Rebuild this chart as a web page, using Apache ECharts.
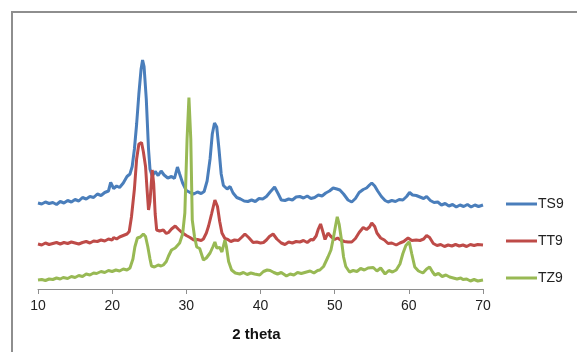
<!DOCTYPE html>
<html>
<head>
<meta charset="utf-8">
<title>XRD</title>
<script src="https://cdn.jsdelivr.net/npm/echarts@6/dist/echarts.min.js"></script>
<style>
  html, body { margin: 0; padding: 0; background: #fff; }
  #myChart { width: 577px; height: 352px; }
</style>
</head>
<body>
<div id="myChart"></div>
<script>
    // 2 theta 轴刻度
    var xTicks = [10, 20, 30, 40, 50, 60, 70];
    var seriesNames = ['TS9', 'TT9', 'TZ9'];

    // [2theta, intensity] (相对强度, 从图上读取)
    var dataTS9 = [
        [10, 34.4], [10.5, 34.0], [11, 34.8], [11.5, 34.2], [12, 34.6], [12.5, 33.8], [13, 35.0], [13.5, 34.4],
        [14, 35.4], [14.5, 34.8], [15, 35.8], [15.5, 35.2], [16, 36.6], [16.5, 36.0], [17, 37.0], [17.5, 36.6],
        [18, 38.0], [18.5, 37.4], [19, 38.6], [19.5, 39.2], [19.8, 42.6], [20.2, 40.2], [20.6, 41.2], [21, 40.6],
        [21.5, 42.4], [22, 45.0], [22.4, 46.0], [22.7, 49.0], [23, 56], [23.3, 66], [23.6, 78], [23.9, 88],
        [24.1, 91.6], [24.3, 89], [24.6, 76], [24.9, 56], [25.1, 48], [25.4, 45.2], [25.8, 47.0], [26.2, 45.4],
        [26.6, 47.2], [27, 45.6], [27.5, 44.4], [28, 45.0], [28.4, 44.2], [28.8, 48.8], [29.1, 46.0], [29.5, 42.4],
        [30, 39.4], [30.5, 38.6], [31, 38.0], [31.5, 38.8], [32, 38.2], [32.4, 39.0], [32.8, 43.2], [33.2, 52],
        [33.5, 62], [33.8, 66.4], [34.1, 64.8], [34.4, 56], [34.7, 46], [35, 41.4], [35.5, 40.0], [35.9, 41.0],
        [36.3, 38.4], [36.8, 36.6], [37.3, 36.0], [37.8, 35.2], [38.3, 35.0], [38.8, 35.6], [39.3, 35.0], [39.8, 36.2],
        [40.3, 36.0], [40.8, 37.0], [41.3, 38.8], [41.9, 40.8], [42.4, 38.0], [42.8, 35.6], [43.3, 35.4], [43.8, 36.0],
        [44.3, 35.6], [44.8, 36.8], [45.3, 37.0], [45.8, 36.4], [46.3, 37.2], [46.8, 36.2], [47.3, 36.6], [47.8, 37.6],
        [48.3, 37.2], [48.8, 38.4], [49.3, 39.2], [49.8, 40.4], [50.3, 40.0], [50.7, 39.6], [51.2, 38.0], [51.8, 35.6],
        [52.3, 34.8], [52.8, 36.2], [53.3, 38.6], [53.85, 39.8], [54.3, 40.4], [54.7, 41.6], [55, 42.4], [55.4, 41.2],
        [55.8, 39.2], [56.3, 37.0], [56.8, 35.4], [57.2, 34.8], [57.7, 35.4], [58.2, 35.0], [58.7, 35.8], [59.2, 35.6],
        [59.7, 37.0], [60.1, 38.6], [60.5, 37.6], [61, 37.4], [61.5, 36.8], [62, 36.2], [62.4, 37.0], [62.9, 35.4],
        [63.4, 34.6], [63.9, 34.8], [64.4, 33.6], [64.9, 34.2], [65.4, 33.2], [65.9, 33.8], [66.4, 32.8], [66.9, 33.6],
        [67.4, 33.0], [67.9, 33.8], [68.4, 32.8], [68.9, 33.6], [69.4, 33.0], [70, 33.6]
    ];
    var dataTT9 = [
        [10, 18.0], [10.5, 17.6], [11, 18.4], [11.5, 17.8], [12, 18.2], [12.5, 18.6], [13, 18.0], [13.5, 18.6],
        [14, 18.2], [14.5, 18.8], [15, 18.4], [15.5, 18.0], [16, 18.6], [16.5, 19.0], [17, 18.4], [17.5, 19.2],
        [18, 19.0], [18.5, 19.6], [19, 19.2], [19.5, 20.0], [20, 19.6], [20.2, 20.6], [20.6, 20.0], [21, 20.8],
        [21.5, 21.4], [22, 22.0], [22.3, 23.0], [22.6, 28.8], [23, 40], [23.3, 52], [23.6, 58], [23.96, 58.6],
        [24.2, 55], [24.5, 49.0], [24.7, 40], [24.9, 31.6], [25.1, 35], [25.4, 47.6], [25.6, 42], [25.8, 30],
        [26, 23.6], [26.4, 23.2], [26.9, 23.6], [27.3, 22.2], [27.6, 22.6], [28, 24.0], [28.5, 25.2], [28.9, 24.0],
        [29.4, 22.6], [30, 21.4], [30.5, 20.6], [31, 19.6], [31.5, 19.8], [32, 19.4], [32.3, 20.0], [32.7, 22.4],
        [33, 25.2], [33.4, 30], [33.85, 35.6], [34.2, 33], [34.5, 27], [34.8, 22.4], [35.2, 20.2], [35.6, 19.8],
        [36, 19.0], [36.5, 19.6], [37, 19.4], [37.5, 20.8], [37.9, 22.0], [38.4, 20.6], [39, 18.6], [39.5, 18.8],
        [40, 18.4], [40.4, 18.6], [40.8, 19.6], [41.2, 21.0], [41.7, 22.0], [42.2, 20.0], [42.8, 18.4], [43.3, 17.8],
        [43.8, 18.8], [44.3, 18.4], [44.8, 19.0], [45.3, 18.8], [45.8, 19.4], [46.3, 18.6], [46.8, 19.8], [47.1, 19.6],
        [47.5, 21.2], [47.8, 24.0], [48.1, 26.0], [48.4, 23.0], [48.7, 19.8], [49.1, 22.4], [49.5, 21.0], [50, 19.8],
        [50.4, 20.4], [50.8, 19.6], [51.3, 19.0], [51.8, 18.8], [52.3, 18.8], [52.8, 20.2], [53.3, 22.6], [53.85, 24.6],
        [54.3, 23.8], [54.7, 24.8], [55, 26.4], [55.4, 25.0], [55.7, 22.4], [56.2, 20.4], [56.7, 19.6], [57.2, 18.2],
        [57.7, 18.4], [58.3, 17.6], [58.8, 18.4], [59.3, 19.0], [59.9, 20.4], [60.4, 19.4], [61, 19.6], [61.5, 19.4],
        [62, 20.0], [62.4, 21.4], [62.8, 20.6], [63.3, 18.2], [63.8, 17.4], [64.3, 17.8], [64.8, 17.0], [65.3, 17.6],
        [65.8, 17.2], [66.3, 17.8], [66.8, 17.2], [67.3, 17.6], [67.8, 17.0], [68.3, 17.8], [68.8, 17.4], [69.3, 17.8],
        [70, 17.6]
    ];
    var dataTZ9 = [
        [10, 3.6], [10.5, 3.8], [11, 3.4], [11.5, 4.0], [12, 3.8], [12.5, 4.4], [13, 4.0], [13.4, 4.6],
        [14, 4.2], [14.5, 5.0], [15, 4.6], [15.5, 5.4], [16, 5.0], [16.5, 6.0], [17, 5.6], [17.5, 6.4],
        [17.9, 6.2], [18.5, 7.0], [19, 6.6], [19.5, 7.4], [20, 7.0], [20.5, 7.6], [21, 7.2], [21.5, 8.0],
        [22, 7.6], [22.4, 8.4], [22.8, 12], [23.06, 16.8], [23.4, 20.4], [23.8, 20.8], [24.2, 22.0], [24.5, 21.0],
        [24.8, 17], [25.1, 12.0], [25.3, 9.2], [25.7, 8.8], [26.2, 9.6], [26.6, 9.2], [26.9, 9.6], [27.3, 11.0],
        [27.6, 13.2], [28, 15.6], [28.5, 16.4], [29.1, 18.4], [29.5, 22], [29.8, 30.4], [30.1, 60], [30.35, 76.6],
        [30.6, 60], [30.8, 27.6], [31.1, 21], [31.4, 16.8], [31.8, 16.2], [32.3, 11.6], [32.7, 12.4], [33.2, 14.4],
        [33.6, 17.0], [33.85, 18.8], [34.1, 16.4], [34.5, 16.6], [34.8, 14.8], [35.2, 19.6], [35.4, 17.0], [35.7, 11.0],
        [36.1, 7.6], [36.6, 6.4], [37.2, 6.0], [37.7, 6.6], [38.2, 5.8], [38.7, 6.4], [39.2, 6.0], [39.9, 5.6],
        [40.4, 7.0], [40.9, 7.6], [41.3, 7.4], [41.8, 6.6], [42.3, 6.0], [42.8, 6.6], [43.5, 5.2], [44, 6.0],
        [44.5, 5.6], [45, 6.6], [45.5, 6.2], [46.2, 6.8], [46.7, 7.2], [47.2, 6.4], [47.7, 7.4], [48, 7.6],
        [48.5, 9.0], [49.1, 12.8], [49.5, 15.6], [49.8, 20.0], [50.1, 25.0], [50.35, 28.9], [50.6, 26.0], [50.9, 20],
        [51.2, 12.8], [51.5, 9.0], [52, 6.8], [52.5, 7.4], [53, 7.0], [53.5, 8.2], [54, 7.6], [54.5, 8.4],
        [55.2, 8.6], [55.7, 7.2], [56.2, 8.4], [56.8, 6.0], [57.3, 7.4], [57.8, 6.8], [58.3, 7.6], [58.8, 10.0],
        [59.2, 14.2], [59.6, 17.4], [60.05, 18.9], [60.4, 14], [60.8, 8.8], [61.3, 7.2], [61.9, 6.4], [62.4, 8.0],
        [62.8, 8.8], [63.2, 6.8], [63.5, 5.6], [64, 6.2], [64.5, 5.0], [65, 5.6], [65.5, 4.8], [66, 4.4],
        [66.5, 4.0], [67, 4.4], [67.3, 3.8], [67.8, 4.0], [68.3, 3.2], [68.8, 3.8], [69.3, 3.2], [70, 3.6]
    ];

    var colors = ['#4a7ebb', '#be4b48', '#98b954'];
    var seriesData = [dataTS9, dataTT9, dataTZ9];

    var myChart = echarts.init(document.getElementById('myChart'));
    myChart.setOption({
        animation: false,
        color: colors,
        textStyle: { fontFamily: 'Liberation Sans, Arial, sans-serif' },
        // 外框
        graphic: [{
            type: 'rect',
            silent: true,
            shape: { x: 12, y: 12, width: 700, height: 500 },
            style: { fill: 'none', stroke: '#8e8e8e', lineWidth: 2 }
        }],
        grid: { left: 38, right: 94, top: 39, bottom: 63 },
        legend: {
            orient: 'vertical',
            left: 501,
            top: 192,
            itemGap: 23,
            itemWidth: 31,
            itemHeight: 3,
            icon: 'rect',
            textStyle: { color: '#222', fontSize: 14, padding: [0, 0, 0, -4] },
            data: seriesNames
        },
        xAxis: {
            type: 'value',
            min: xTicks[0],
            max: xTicks[xTicks.length - 1],
            interval: 10,
            name: '2 theta',
            nameLocation: 'middle',
            nameGap: 38,
            nameTextStyle: { color: '#111', fontSize: 15, fontWeight: 'bold', padding: [0, 8, 0, 0] },
            axisLine: { lineStyle: { color: '#8e8e8e', width: 1 } },
            axisTick: { show: true, inside: false, length: 5, lineStyle: { color: '#8e8e8e' } },
            axisLabel: { color: '#222', fontSize: 14, margin: 10 },
            splitLine: { show: false }
        },
        yAxis: {
            type: 'value',
            min: 0,
            max: 100,
            show: false,
            splitLine: { show: false }
        },
        series: seriesNames.map(function (name, i) {
            return {
                name: name,
                type: 'line',
                showSymbol: false,
                symbol: 'none',
                lineStyle: { width: 3, color: colors[i] },
                data: seriesData[i]
            };
        })
    });
</script>
</body>
</html>
